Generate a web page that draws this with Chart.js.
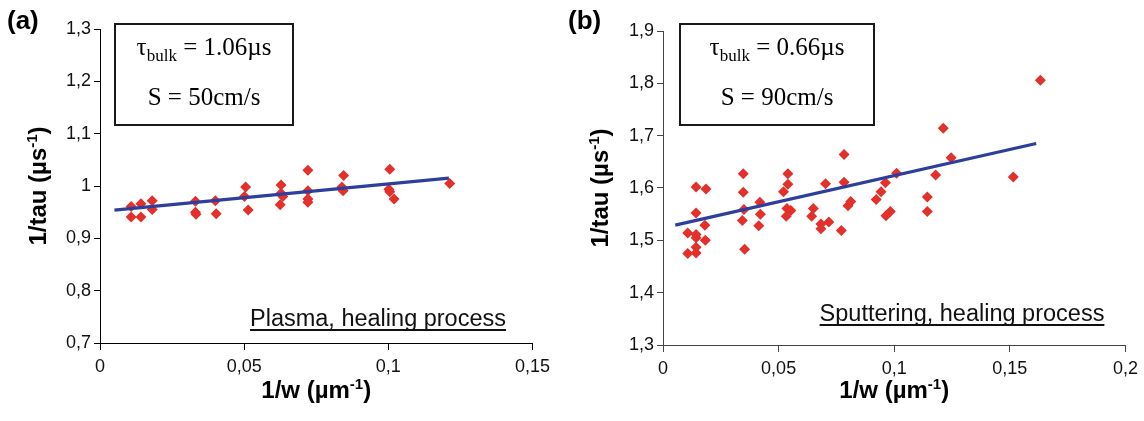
<!DOCTYPE html>
<html><head><meta charset="utf-8">
<script src="https://cdn.jsdelivr.net/npm/chart.js@4.4.1/dist/chart.umd.min.js"></script>
<style>
html,body{margin:0;padding:0;background:#fff;}
#wrap{position:relative;width:1144px;height:421px;overflow:hidden;background:#fff;}
canvas{position:absolute;top:0;}
</style></head><body>
<div id="wrap">
<canvas id="ca" width="556" height="421" style="left:0"></canvas>
<canvas id="cb" width="588" height="421" style="left:556px"></canvas>
</div>
<script>
// ---------- DATA ----------
const plasmaX = [0.0108,0.0108,0.0142,0.0142,0.0181,0.0181,0.0331,0.0331,0.0333,0.0400,0.0403,0.0505,0.0501,0.0514,0.0628,0.0628,0.0634,0.0625,0.0721,0.0721,0.0721,0.0721,0.0845,0.0839,0.0843,0.1005,0.1002,0.1005,0.1020,0.1213];
const plasmaY = [0.961,0.941,0.966,0.941,0.972,0.955,0.971,0.950,0.946,0.972,0.947,0.998,0.980,0.954,1.002,0.986,0.980,0.964,1.030,0.991,0.975,0.969,1.020,0.998,0.991,1.032,0.994,0.989,0.975,1.005];
const plasmaFitX = [0.005, 0.121];
const plasmaFitY = [0.954, 1.015];

const sputX = [0.0107,0.0107,0.0143,0.0143,0.0143,0.0143,0.0143,0.0143,0.0186,0.0181,0.0183,0.0347,0.0347,0.0350,0.0343,0.0353,0.0419,0.0421,0.0414,0.0540,0.0540,0.0521,0.0536,0.0553,0.0533,0.0650,0.0643,0.0683,0.0683,0.0717,0.0703,0.0783,0.0783,0.0771,0.0812,0.0800,0.1010,0.0962,0.0943,0.0922,0.0983,0.0964,0.1143,0.1143,0.1179,0.1212,0.1246,0.1515,0.1632];
const sputY = [1.514,1.475,1.602,1.552,1.511,1.505,1.487,1.476,1.598,1.529,1.500,1.627,1.592,1.559,1.538,1.483,1.573,1.550,1.528,1.627,1.607,1.593,1.561,1.557,1.546,1.561,1.546,1.531,1.522,1.535,1.608,1.664,1.611,1.519,1.574,1.566,1.628,1.610,1.593,1.578,1.555,1.547,1.583,1.555,1.625,1.714,1.658,1.621,1.806];
const sputFitX = [0.0053, 0.1614];
const sputFitY = [1.529, 1.685];

const xTicksA = [0, 0.05, 0.1, 0.15];
const xLabelsA = ['0', '0,05', '0,1', '0,15'];
const yTicksA = [0.7, 0.8, 0.9, 1.0, 1.1, 1.2, 1.3];
const yLabelsA = ['0,7', '0,8', '0,9', '1', '1,1', '1,2', '1,3'];
const xTicksB = [0, 0.05, 0.1, 0.15, 0.2];
const xLabelsB = ['0', '0,05', '0,1', '0,15', '0,2'];
const yTicksB = [1.3, 1.4, 1.5, 1.6, 1.7, 1.8, 1.9];
const yLabelsB = ['1,3', '1,4', '1,5', '1,6', '1,7', '1,8', '1,9'];

// ---------- STYLE ----------
const RED = '#e3302a';
const BLUE = '#2e3e9c';
const SANS = '"Liberation Sans", Arial, Helvetica, sans-serif';
const SERIF = '"Liberation Serif", "Times New Roman", serif';

function drawParts(ctx, cx, cy, parts, rotate) {
  ctx.save();
  ctx.translate(cx, cy);
  if (rotate) ctx.rotate(-Math.PI / 2);
  let total = 0;
  parts.forEach(p => { ctx.font = p.font; p.w = ctx.measureText(p.t).width; total += p.w; });
  let x = -total / 2;
  ctx.textAlign = 'left';
  ctx.textBaseline = 'alphabetic';
  ctx.fillStyle = '#000';
  parts.forEach(p => { ctx.font = p.font; ctx.fillText(p.t, x, p.dy); x += p.w; });
  ctx.restore();
}

const deco = {
  id: 'deco',
  afterDraw(chart, args, o) {
    const ctx = chart.ctx;
    ctx.save();
    // panel letter
    ctx.fillStyle = '#000';
    ctx.font = 'bold 26px ' + SANS;
    ctx.textAlign = 'left'; ctx.textBaseline = 'middle';
    ctx.fillText(o.panel, o.panelX, 22);
    // parameter box
    const [x0, y0, x1, y1] = o.box;
    ctx.lineWidth = 2; ctx.strokeStyle = '#1a1a1a';
    ctx.strokeRect(x0, y0, x1 - x0, y1 - y0);
    const cx = (x0 + x1) / 2;
    drawParts(ctx, cx, 55, [
      {t: 'τ', font: '25px ' + SERIF, dy: 0},
      {t: 'bulk', font: '17px ' + SERIF, dy: 6},
      {t: ' = ' + o.tau, font: '25px ' + SERIF, dy: 0}
    ], false);
    drawParts(ctx, cx, 105, [{t: o.s, font: '25px ' + SERIF, dy: 0}], false);
    // underlined note
    ctx.font = '23.5px ' + SANS;
    ctx.fillStyle = '#111';
    ctx.textAlign = 'center'; ctx.textBaseline = 'alphabetic';
    ctx.fillText(o.note, o.noteX, o.noteY);
    const nw = ctx.measureText(o.note).width;
    ctx.fillRect(o.noteX - nw / 2, o.noteY + 3, nw, 2);
    // axis titles
    drawParts(ctx, (chart.chartArea.left + chart.chartArea.right) / 2, 390, [
      {t: '1/w (µm', font: 'bold 24px ' + SANS, dy: 8},
      {t: '-1', font: 'bold 15px ' + SANS, dy: -1},
      {t: ')', font: 'bold 24px ' + SANS, dy: 8}
    ], false);
    drawParts(ctx, o.yTitleX, (chart.chartArea.top + chart.chartArea.bottom) / 2, [
      {t: '1/tau (µs', font: 'bold 24px ' + SANS, dy: 8},
      {t: '-1', font: 'bold 15px ' + SANS, dy: -1},
      {t: ')', font: 'bold 24px ' + SANS, dy: 8}
    ], true);
    ctx.restore();
  }
};

function makeChart(id, c) {
  const axisCol = c.axisColor;
  return new Chart(document.getElementById(id), {
    type: 'scatter',
    data: {
      datasets: [
        {
          data: c.px.map((x, i) => ({x: x, y: c.py[i]})),
          pointStyle: 'rectRot', pointRadius: 5.5, pointHoverRadius: 5.5,
          backgroundColor: RED, borderWidth: 0, order: 2
        },
        {
          data: c.fx.map((x, i) => ({x: x, y: c.fy[i]})),
          showLine: true, borderColor: BLUE, borderWidth: 3.2,
          pointRadius: 0, fill: false, order: 1
        }
      ]
    },
    options: {
      responsive: false, animation: false, devicePixelRatio: 1,
      layout: {padding: {left: 0, right: c.padR, top: c.padT, bottom: 0}},
      plugins: {legend: {display: false}, tooltip: {enabled: false}, deco: c.deco},
      scales: {
        x: {
          type: 'linear', min: c.xt[0], max: c.xt[c.xt.length - 1],
          afterBuildTicks: s => { s.ticks = c.xt.map(v => ({value: v})); },
          afterFit: s => { s.height = c.xh; },
          ticks: {callback: (v, i) => c.xl[i], color: '#111', font: {family: SANS, size: 18}, padding: 6, maxRotation: 0, autoSkip: false},
          grid: {drawOnChartArea: false, drawTicks: true, tickLength: 7, color: axisCol, tickColor: axisCol},
          border: {color: axisCol, width: 1}
        },
        y: {
          type: 'linear', min: c.yt[0], max: c.yt[c.yt.length - 1],
          afterBuildTicks: s => { s.ticks = c.yt.map(v => ({value: v})); },
          afterFit: s => { s.width = c.yw; },
          ticks: {callback: (v, i) => c.yl[i], color: '#111', font: {family: SANS, size: 18}, padding: 3, autoSkip: false},
          grid: {drawOnChartArea: false, drawTicks: true, tickLength: 6, color: axisCol, tickColor: axisCol},
          border: {color: axisCol, width: 1}
        }
      }
    },
    plugins: [deco]
  });
}

makeChart('ca', {
  px: plasmaX, py: plasmaY, fx: plasmaFitX, fy: plasmaFitY,
  xt: xTicksA, xl: xLabelsA, yt: yTicksA, yl: yLabelsA,
  padR: 23, padT: 29, xh: 78, yw: 100, axisColor: '#000',
  deco: {panel: '(a)', panelX: 7, box: [115, 24, 293, 125], tau: '1.06µs', s: 'S = 50cm/s',
         note: 'Plasma, healing process', noteX: 378, noteY: 326, yTitleX: 38}
});
makeChart('cb', {
  px: sputX, py: sputY, fx: sputFitX, fy: sputFitY,
  xt: xTicksB, xl: xLabelsB, yt: yTicksB, yl: yLabelsB,
  padR: 14, padT: 31, xh: 76, yw: 107, axisColor: '#444',
  deco: {panel: '(b)', panelX: 12, box: [124, 24, 318, 125], tau: '0.66µs', s: 'S = 90cm/s',
         note: 'Sputtering, healing process', noteX: 406, noteY: 321, yTitleX: 44}
});
</script>
</body></html>
